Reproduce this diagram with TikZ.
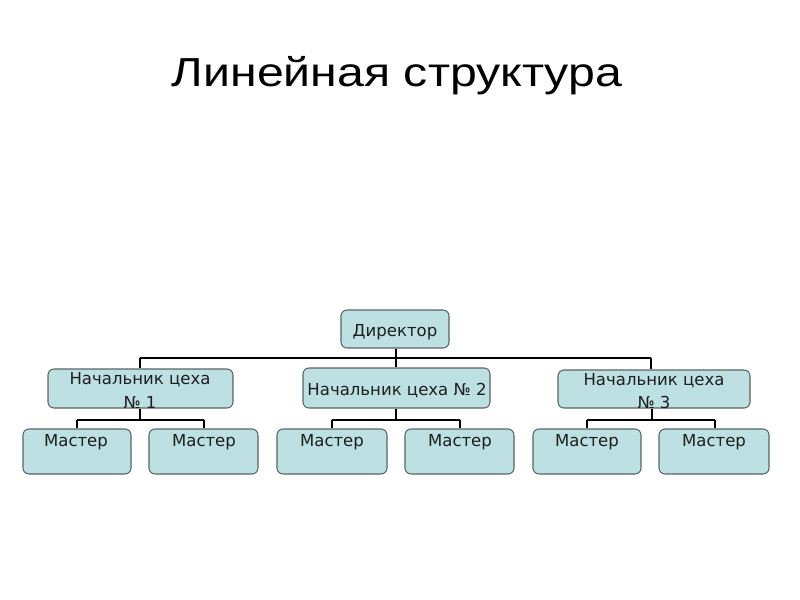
\documentclass[tikz,border=0pt]{standalone}
\usepackage{fontspec}
\setmainfont{DejaVu Sans}
\newfontfamily\titlefont[FakeStretch=1.19]{Liberation Sans}
\definecolor{boxfill}{RGB}{189,224,227}
\definecolor{boxline}{RGB}{90,100,100}
\definecolor{txtcol}{RGB}{30,30,30}
\begin{document}
\begin{tikzpicture}[x=0.75pt,y=-0.75pt,
  box/.style={draw=boxline,line width=0.8pt,fill=boxfill,rounded corners=4.5pt,inner sep=0pt},
  txt/.style={font=\fontsize{12.4pt}{17pt}\selectfont,text=txtcol,inner sep=0pt,anchor=base,align=center},
  conn/.style={draw=black,line width=1.1pt}]
\useasboundingbox[fill=white] (0,0) rectangle (800,600);
\node[font=\titlefont\fontsize{30.4pt}{36pt}\selectfont,anchor=base,inner sep=0pt] (title) at (397,86) {Линейная структура};
% boxes: (left,top) rectangle (right,bottom)
\newcommand\mybox[5]{\node[box,minimum width=#4*0.75pt-#2*0.75pt,minimum height=#5*0.75pt-#3*0.75pt] (#1) at ({(#2+#4)/2},{(#3+#5)/2}) {};}
\mybox{dir}{341}{310}{449}{348}
\mybox{n1}{48}{369}{233}{408}
\mybox{n2}{303}{368}{490}{408}
\mybox{n3}{558}{370}{750}{408}
\mybox{m11}{23}{429}{131}{474}
\mybox{m12}{149}{429}{258}{474}
\mybox{m21}{277}{429}{387}{474}
\mybox{m22}{405}{429}{514}{474}
\mybox{m31}{533}{429}{641}{474}
\mybox{m32}{659}{429}{769}{474}
% texts
\node[txt] (tdir) at (395,336) {Директор};
\node[txt] (tn1) at (140,384) {Начальник цеха};
\node[txt] (tn1b) at (140,408) {№ 1};
\node[txt] (tn2) at (397,395) {Начальник цеха № 2};
\node[txt] (tn3) at (654,385) {Начальник цеха};
\node[txt] (tn3b) at (654,408) {№ 3};
\node[txt] (tm11) at (76,446) {Мастер};
\node[txt] (tm12) at (204,446) {Мастер};
\node[txt] (tm21) at (332,446) {Мастер};
\node[txt] (tm22) at (460,446) {Мастер};
\node[txt] (tm31) at (587,446) {Мастер};
\node[txt] (tm32) at (714,446) {Мастер};
% connectors
\draw[conn] (dir.south -| 396,0) -- (n2.north -| 396,0);
\draw[conn] (140,358) -- (651,358);
\draw[conn] (140,358) -- (n1.north -| 140,0);
\draw[conn] (651,358) -- (n3.north -| 651,0);
% group 1
\draw[conn] (n1.south -| 140,0) -- (140,420) (77,420) -- (204,420);
\draw[conn] (77,420) -- (m11.north -| 77,0) (204,420) -- (m12.north -| 204,0);
% group 2
\draw[conn] (n2.south -| 396,0) -- (396,420) (332,420) -- (460,420);
\draw[conn] (332,420) -- (m21.north -| 332,0) (460,420) -- (m22.north -| 460,0);
% group 3
\draw[conn] (n3.south -| 652,0) -- (652,420) (587,420) -- (715,420);
\draw[conn] (587,420) -- (m31.north -| 587,0) (715,420) -- (m32.north -| 715,0);
\end{tikzpicture}
\end{document}
